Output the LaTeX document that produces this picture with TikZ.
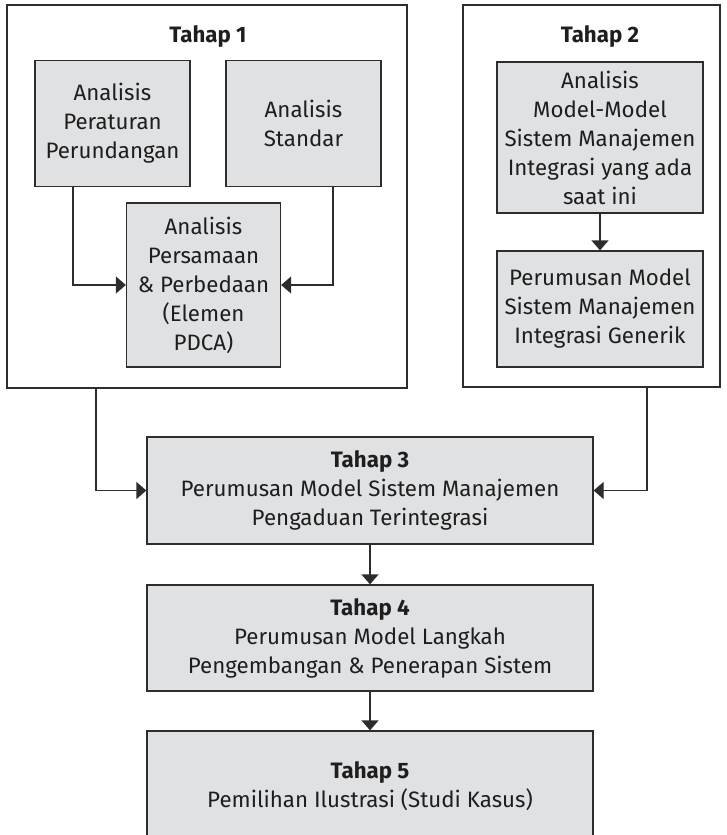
\documentclass[tikz,border=0pt]{standalone}
\usepackage{fontspec}
\setmainfont{Fira Sans}
\usetikzlibrary{arrows.meta}
\definecolor{boxfill}{RGB}{224,225,227}
\definecolor{edgecol}{RGB}{45,45,45}
\definecolor{txtcol}{RGB}{30,30,30}
\begin{document}
\begin{tikzpicture}[x=1pt,y=-1pt,
  box/.style={draw=edgecol, line width=1.3pt, fill=boxfill, inner sep=0pt, align=center, font=\fontsize{22.3}{29}\selectfont, text=txtcol},
  frame/.style={draw=edgecol, line width=1.3pt, inner sep=0pt},
  arr/.style={draw=edgecol, line width=1.3pt, -{Triangle[length=10pt,width=17pt]}},
  ttl/.style={font=\fontsize{22.3}{29}\selectfont\bfseries, text=txtcol}]
\clip (0,0) rectangle (727,835);
\fill[white] (0,0) rectangle (727,835);
% frames
\node[frame, minimum width=400pt, minimum height=383pt] (f1) at (207,196.5) {};
\node[frame, minimum width=257pt, minimum height=382pt] (f2) at (591.5,196) {};
\node[ttl] (t1) at (208,37) {Tahap 1};
\node[ttl] (t2) at (600,37) {Tahap 2};
% tahap 1
\node[box, minimum width=155pt, minimum height=126pt] (a) at (112.5,123.5) {Analisis\\Peraturan\\Perundangan};
\node[box, minimum width=155pt, minimum height=126pt] (b) at (303.5,123.5) {Analisis\\Standar};
\node[box, minimum width=154pt, minimum height=164pt] (c) at (203.5,285) {Analisis\\Persamaan\\\& Perbedaan\\(Elemen\\PDCA)};
% tahap 2
\node[box, minimum width=206pt, minimum height=151pt] (d) at (600,137.5) {Analisis\\Model-Model\\Sistem Manajemen\\Integrasi yang ada\\saat ini};
\node[box, minimum width=206pt, minimum height=116pt] (e) at (600,309) {Perumusan Model\\Sistem Manajemen\\Integrasi Generik};
% tahap 3-5
\node[box, minimum width=446pt, minimum height=107pt] (f) at (370,490.5) {\textbf{Tahap 3}\\Perumusan Model Sistem Manajemen\\Pengaduan Terintegrasi};
\node[box, minimum width=446pt, minimum height=106pt] (g) at (370,638) {\textbf{Tahap 4}\\Perumusan Model Langkah\\Pengembangan \& Penerapan Sistem};
\node[box, minimum width=446pt, minimum height=110pt] (h) at (370,786) {\textbf{Tahap 5}\\Pemilihan Ilustrasi (Studi Kasus)};
% connectors
\draw[arr] ([xshift=-39.5pt]a.south) |- (c.west);
\draw[arr] ([xshift=29.5pt]b.south) |- (c.east);
\draw[arr] (d) -- (e);
\draw[arr] ([xshift=-111pt]f1.south) |- (f.west);
\draw[arr] ([xshift=55.5pt]f2.south) |- (f.east);
\draw[arr] (f) -- (g);
\draw[arr] (g) -- (h);
\end{tikzpicture}
\end{document}
